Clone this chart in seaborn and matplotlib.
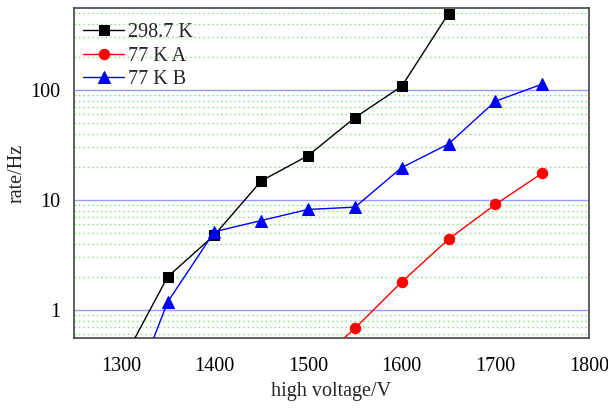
import numpy as np
import pandas as pd
import matplotlib
matplotlib.use("Agg")
import matplotlib.pyplot as plt
from matplotlib.ticker import FixedLocator, FuncFormatter, LogLocator, NullFormatter, MultipleLocator
import seaborn as sns

# Count rate versus applied high voltage
voltage_room = [1300, 1350, 1400, 1450, 1500, 1550, 1600, 1650]
rate_room = [0.32, 2.0, 4.8, 14.9, 25.3, 56, 108, 495]

voltage_77a = [1500, 1550, 1600, 1650, 1700, 1750]
rate_77a = [0.28, 0.68, 1.8, 4.4, 9.1, 17.5]

voltage_77b = [1300, 1350, 1400, 1450, 1500, 1550, 1600, 1650, 1700, 1750]
rate_77b = [0.094, 1.18, 5.15, 6.5, 8.2, 8.6, 19.7, 32.3, 79, 113]

series_labels = ["298.7 K", "77 K A", "77 K B"]
y_tick_labels = ["1", "10", "100"]

sns.set_style("white")
plt.rcParams["font.family"] = ["Liberation Serif", "DejaVu Serif"]

fig = plt.figure(figsize=(6.08, 4.09), dpi=100)
ax = fig.add_axes([74 / 608, 1 - 338 / 409, (589 - 74) / 608, (338 - 8) / 409])

ax.set_yscale("log")
ax.set_xlim(1250, 1800)
ax.set_ylim(0.556, 556)

# grid: solid blue at decades, dotted green at the minor steps
for dec in [1, 10, 100]:
    ax.axhline(dec, color="#9999ff", lw=1.0, zorder=1)
for dec in [0.1, 1, 10, 100]:
    for m in range(2, 10):
        ax.axhline(dec * m, color="#70e870", lw=1.0, ls=(0, (1, 2.2)), zorder=1)

styles = [
    (voltage_room, rate_room, "black", "s", 6.5),
    (voltage_77a, rate_77a, "red", "o", 7.5),
    (voltage_77b, rate_77b, "blue", "^", 8),
]
for (xs, ys, col, mk, ms), lab in zip(styles, series_labels):
    df = pd.DataFrame({"V": xs, "rate": ys})
    sns.lineplot(data=df, x="V", y="rate", ax=ax, color=col, marker=mk,
                 markersize=ms, markeredgecolor=col, linewidth=1.0,
                 label=lab, zorder=3)

ax.xaxis.set_major_locator(MultipleLocator(100))
ax.xaxis.set_minor_locator(MultipleLocator(50))
ax.yaxis.set_major_locator(FixedLocator([1, 10, 100]))
ax.yaxis.set_major_formatter(FuncFormatter(lambda v, p: y_tick_labels[[1, 10, 100].index(v)] if v in (1, 10, 100) else ""))
ax.yaxis.set_minor_locator(LogLocator(base=10, subs=np.arange(2, 10)))
ax.yaxis.set_minor_formatter(NullFormatter())

FS = 14.5
ax.tick_params(axis="both", which="both", direction="in", top=False, right=False,
               colors="#444444", labelcolor="black", labelsize=FS)
ax.tick_params(axis="y", which="major", length=11, width=1.2, pad=10)
ax.tick_params(axis="y", which="minor", length=6, width=1.0)
ax.tick_params(axis="x", which="major", length=6, width=1.0, pad=14)
ax.tick_params(axis="x", which="minor", length=4, width=1.0)

for sp in ax.spines.values():
    sp.set_color("#444444")
    sp.set_linewidth(1.2)

ax.set_xlabel("high voltage/V", fontsize=FS)
ax.set_ylabel("rate/Hz", fontsize=FS)
ax.xaxis.set_label_coords(0.5, -(380 - 338 + 2) / 330)
ax.yaxis.set_label_coords((27 - 74) / 515, 0.5)

leg = ax.legend(loc="upper left", frameon=False, fontsize=FS, handlelength=2.05,
                handletextpad=0.2, labelspacing=0.22, borderaxespad=0.0,
                borderpad=0.0, bbox_to_anchor=(9 / 515, 1 - 15 / 330))

fig.savefig("out.png", dpi=100)
